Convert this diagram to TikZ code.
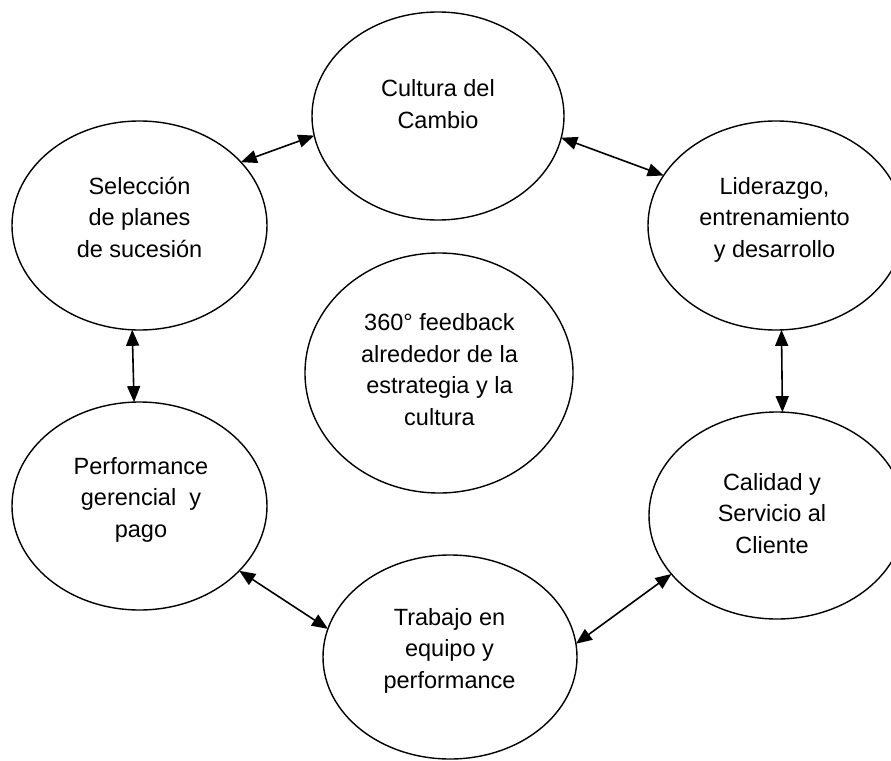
\documentclass[tikz,border=0pt]{standalone}
\usepackage{fontspec}
\setmainfont{Liberation Sans}
\usetikzlibrary{arrows.meta,shapes.geometric}
\begin{document}
\begin{tikzpicture}[x=1pt,y=-1pt,
  bubble/.style={draw=black, line width=1.4pt, ellipse, inner sep=0pt, outer sep=0pt},
  txt/.style={align=center, anchor=base, inner sep=0pt, font=\fontsize{23.5}{31.5}\selectfont},
  link/.style={line width=1.6pt, {Triangle[length=16pt,width=13pt]}-{Triangle[length=16pt,width=13pt]}}
]
\useasboundingbox (0,0) rectangle (891,760);
\clip (0,0) rectangle (891,760);
\fill[white] (0,0) rectangle (891,760);
% ellipses
\node[bubble, minimum width=252pt, minimum height=208pt] (cul)  at (438,116)   {};
\node[bubble, minimum width=255pt, minimum height=209pt] (sel)  at (139.5,225.5) {};
\node[bubble, minimum width=256pt, minimum height=209pt] (lid)  at (776,225.5) {};
\node[bubble, minimum width=268pt, minimum height=240pt] (ctr)  at (439,373)   {};
\node[bubble, minimum width=255pt, minimum height=208pt] (perf) at (139.5,506) {};
\node[bubble, minimum width=256pt, minimum height=207pt] (cal)  at (777,515.5) {};
\node[bubble, minimum width=254pt, minimum height=204pt] (tra)  at (450,657)   {};
% texts (anchor at baseline of last line)
\node[txt] (tcul)  at (438,128)   {Cultura del\\Cambio};
\node[txt] (tsel)  at (139.5,257) {Selección\\de planes\\de sucesión};
\node[txt] (tlid)  at (774.5,257) {Liderazgo,\\entrenamiento\\y desarrollo};
\node[txt] (tctr)  at (439.5,425) {360° feedback\\alrededor de la\\estrategia y la\\cultura};
\node[txt] (tperf) at (141,537)   {Performance\\gerencial\ \ y\\pago};
\node[txt] (tcal)  at (772,553)   {Calidad y\\Servicio al\\Cliente};
\node[txt] (ttra)  at (449.5,688) {Trabajo en\\equipo y\\performance};
% connectors
\draw[link] (sel.32.7) -- (cul.189.3);
\draw[link] (cul.350.2) -- (lid.156);
\draw[link] (lid.273.3) -- (cal.87.2);
\draw[link] (sel.266.4) -- (perf.93.6);
\draw[link] (perf.327.5) -- (tra.167.1);
\draw[link] (tra.6.7) -- (cal.209.2);
\end{tikzpicture}
\end{document}
